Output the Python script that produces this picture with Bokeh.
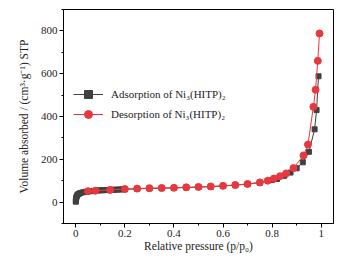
from bokeh.plotting import figure
from bokeh.models import FixedTicker, Range1d, Legend, LegendItem
from bokeh.embed import file_html
from bokeh.resources import INLINE

# Adsorption branch (relative pressure, volume)
ads_x = [0.0001, 0.0005, 0.001, 0.002, 0.003, 0.005, 0.007, 0.01, 0.015, 0.02,
         0.03, 0.04, 0.05, 0.06, 0.07, 0.08, 0.09, 0.10, 0.11, 0.12, 0.13, 0.14,
         0.15, 0.16, 0.17, 0.18, 0.19, 0.20,
         0.25, 0.30, 0.35, 0.40, 0.45, 0.50, 0.55, 0.60, 0.65, 0.70, 0.75, 0.80,
         0.82, 0.85, 0.875, 0.90, 0.925, 0.95, 0.973, 0.981, 0.989]
ads_y = [2, 8, 14, 20, 25, 30, 34, 37, 40, 43,
         46, 48, 50, 51, 52, 53, 54, 55, 55.5, 56, 56.5, 57,
         57.5, 58, 58.5, 59, 59.5, 60,
         62, 64, 65, 66, 68, 70, 72, 75, 79, 84, 91, 103,
         108, 123, 138, 158, 186, 235, 340, 430, 588]

# Desorption branch
des_x = [0.993, 0.986, 0.977, 0.968, 0.946, 0.928, 0.887, 0.857, 0.832, 0.807,
         0.782, 0.75, 0.70, 0.65, 0.60, 0.55, 0.50, 0.45, 0.40, 0.35, 0.30, 0.25,
         0.20, 0.14, 0.08, 0.05]
des_y = [788, 660, 525, 445, 269, 218, 159, 134, 121, 110,
         100, 92, 85, 80, 76, 73, 71, 69, 67, 66, 65, 63,
         61, 57, 53, 51]

x_ticks = [0, 0.2, 0.4, 0.6, 0.8, 1.0]
x_tick_labels = ["0", "0.2", "0.4", "0.6", "0.8", "1"]
x_minor = [-0.1, 0.1, 0.3, 0.5, 0.7, 0.9, 1.1]
y_ticks = [0, 200, 400, 600, 800]
y_minor = [-100, 100, 300, 500, 700, 900]

GRAY = "#404040"
RED = "#e8383f"
FONT = "Liberation Serif"

p = figure(width=345, height=258, output_backend="svg", toolbar_location=None,
           x_range=Range1d(-0.05, 1.05), y_range=Range1d(-100, 900),
           min_border_left=63, min_border_right=12, min_border_top=9,
           min_border_bottom=35)
p.grid.visible = False
p.outline_line_color = "black"
p.outline_line_width = 1
p.background_fill_color = "white"
p.border_fill_color = "white"

l1 = p.line(ads_x, ads_y, line_color=GRAY, line_width=1)
s1 = p.scatter(ads_x, ads_y, marker="square", size=5, fill_color=GRAY, line_color=GRAY)
l2 = p.line(des_x, des_y, line_color=RED, line_width=1)
s2 = p.scatter(des_x, des_y, marker="circle", size=7, fill_color=RED, line_color=RED)

p.xaxis.ticker = FixedTicker(ticks=x_ticks, minor_ticks=x_minor)
p.xaxis.major_label_overrides = {t: l for t, l in zip(x_ticks, x_tick_labels)}
p.yaxis.ticker = FixedTicker(ticks=y_ticks, minor_ticks=y_minor)

for ax in (p.xaxis[0], p.yaxis[0]):
    ax.major_tick_in = 0
    ax.major_tick_out = 4
    ax.minor_tick_in = 0
    ax.minor_tick_out = 2
    ax.axis_line_color = "black"
    ax.major_tick_line_color = "black"
    ax.minor_tick_line_color = "black"
    ax.major_label_text_font = FONT
    ax.major_label_text_font_size = "11px"
    ax.major_label_text_color = "#222222"
    ax.axis_label_text_font = FONT
    ax.axis_label_text_font_size = "11.5px"
    ax.axis_label_text_font_style = "normal"
    ax.axis_label_text_color = "#222222"

p.xaxis.axis_label = "Relative pressure (p/p₀)"
p.yaxis.axis_label = "Volume absorbed / (cm³·g⁻¹) STP"
p.xaxis.major_label_standoff = 2
p.xaxis.axis_label_standoff = 0
p.yaxis.major_label_standoff = 2
p.yaxis.axis_label_standoff = 8

legend = Legend(items=[
    LegendItem(label="Adsorption of Ni₃(HITP)₂", renderers=[l1, s1]),
    LegendItem(label="Desorption of Ni₃(HITP)₂", renderers=[l2, s2]),
], location=(8, 97))
legend.background_fill_alpha = 0
legend.border_line_alpha = 0
legend.padding = 2
legend.margin = 0
legend.spacing = 0
legend.glyph_width = 30
legend.label_standoff = 8
legend.label_text_font = FONT
legend.label_text_font_size = "11px"
legend.label_text_color = "#222222"
p.add_layout(legend)

open("out.html", "w").write(file_html(p, INLINE))
